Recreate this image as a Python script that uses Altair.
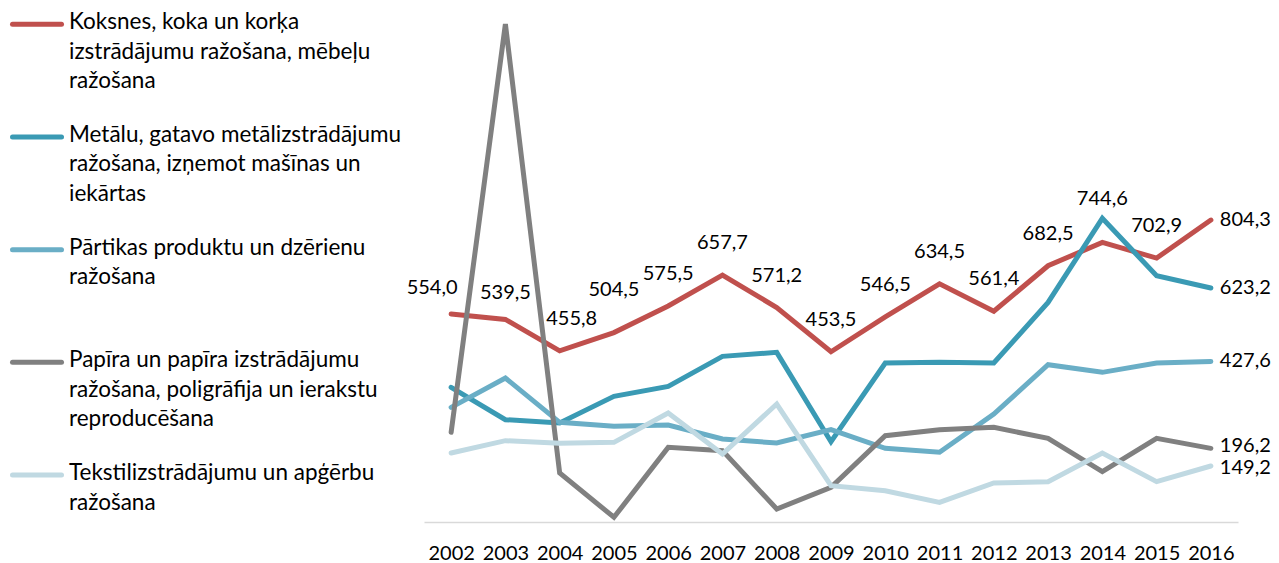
import altair as alt
import pandas as pd

years = [2002, 2003, 2004, 2005, 2006, 2007, 2008, 2009, 2010, 2011, 2012, 2013, 2014, 2015, 2016]

series_names = [
    "Koksnes, koka un korķa\nizstrādājumu ražošana, mēbeļu\nražošana",
    "Metālu, gatavo metālizstrādājumu\nražošana, izņemot mašīnas un\niekārtas",
    "Pārtikas produktu un dzērienu\nražošana",
    "Papīra un papīra izstrādājumu\nražošana, poligrāfija un ierakstu\nreproducēšana",
    "Tekstilizstrādājumu un apģērbu\nražošana",
]
series_colors = ["#c0504d", "#3a9ab4", "#6aaec6", "#808080", "#c0d9e2"]

koksnes = [554.0, 539.5, 455.8, 504.5, 575.5, 657.7, 571.2, 453.5, 546.5, 634.5, 561.4, 682.5, 744.6, 702.9, 804.3]
metalu = [358.7, 272.5, 263.6, 334.6, 361.3, 441.2, 451.8, 213.9, 423.4, 425.2, 423.4, 585.0, 808.7, 656.0, 623.2]
partikas = [305.4, 383.5, 265.4, 254.8, 258.3, 221.0, 210.4, 245.9, 196.2, 185.6, 287.6, 419.0, 398.6, 423.4, 427.6]
papira = [238.8, 1326.0, 130.5, 12.5, 198.8, 190.0, 34.6, 92.3, 229.9, 245.9, 252.1, 222.8, 134.0, 222.8, 196.2]
tekstil = [183.7, 216.6, 209.5, 212.1, 290.3, 181.1, 314.2, 96.7, 83.4, 52.4, 103.9, 107.4, 183.7, 107.4, 149.2]

all_values = [koksnes, metalu, partikas, papira, tekstil]

rows = []
for si, (name, vals) in enumerate(zip(series_names, all_values)):
    for yr, v in zip(years, vals):
        rows.append({"series": name, "order": si, "year": yr, "value": v})
df = pd.DataFrame(rows)

FONT = "Lato"
LABEL_SIZE = 20
color_scale = alt.Scale(domain=series_names, range=series_colors)

x_enc = alt.X("year:O", title=None,
              axis=alt.Axis(labelFont=FONT, labelFontSize=LABEL_SIZE, labelColor="#000000",
                            labelAngle=0, ticks=False, labelPadding=21,
                            domainColor="#d9d9d9", domainWidth=1.5, grid=False))
y_enc = alt.Y("value:Q", axis=None, scale=alt.Scale(domain=[0, 1369], nice=False, zero=True))

lines = alt.Chart(df).mark_line(strokeWidth=5, strokeCap="round", strokeJoin="miter").encode(
    x=x_enc, y=y_enc,
    color=alt.Color("series:N", scale=color_scale, legend=None),
    detail="series:N",
    order=alt.Order("year:O"),
)

fmt = "replace(format(datum.value, '.1f'), '.', ',')"


def label_layer(cond, dx, dy, align="center"):
    return alt.Chart(df).transform_filter(cond).transform_calculate(lbl=fmt).mark_text(
        font=FONT, fontSize=LABEL_SIZE, color="#000000", dx=dx, dy=dy,
        align=align, baseline="middle"
    ).encode(x=alt.X("year:O"), y=alt.Y("value:Q"), text="lbl:N")


def red_years(year_list):
    yl = ",".join(str(y) for y in year_list)
    return f"datum.order == 0 && indexof([{yl}], datum.year) >= 0"


# label placement groups (as placed in the original chart)
red_labels = [
    label_layer(red_years([2002]), -19, -26),
    label_layer(red_years([2003]), 0, -26),
    label_layer(red_years([2004]), 12, -32),
    label_layer(red_years([2005, 2014]), 0, -43),
    label_layer(red_years([2006, 2007, 2008, 2009, 2010, 2011, 2012, 2013, 2015]), 0, -32),
]

end_labels = [
    label_layer("datum.year == 2016 && datum.order <= 2", 9, 0, "left"),
    label_layer("datum.year == 2016 && datum.order == 3", 9, -2, "left"),
    label_layer("datum.year == 2016 && datum.order == 4", 9, 2, "left"),
]

main = alt.layer(lines, *red_labels, *end_labels).properties(width=814, height=514)

leg_df = pd.DataFrame({"series": series_names, "idx": list(range(len(series_names)))})
leg_y = alt.Y("idx:Q", axis=None, scale=alt.Scale(domain=[0, 4], range=[16.3, 467]))

leg_rule = alt.Chart(leg_df).mark_rule(strokeWidth=5, strokeCap="round").encode(
    x=alt.value(4.5), x2=alt.value(53.5), y=leg_y,
    color=alt.Color("series:N", scale=color_scale, legend=None),
)
leg_text = alt.Chart(leg_df).mark_text(
    font=FONT, fontSize=22.5, color="#000000", align="left", baseline="top",
    lineBreak="\n", lineHeight=29.5, dy=-13
).encode(x=alt.value(61), y=leg_y, text="series:N")

legend = alt.layer(leg_rule, leg_text).properties(width=400, height=514)

chart = alt.hconcat(legend, main, spacing=16, bounds="flush").properties(
    padding=0
).configure_view(stroke=None)

chart.save("out.html", embed_options={"renderer": "svg", "actions": False})
